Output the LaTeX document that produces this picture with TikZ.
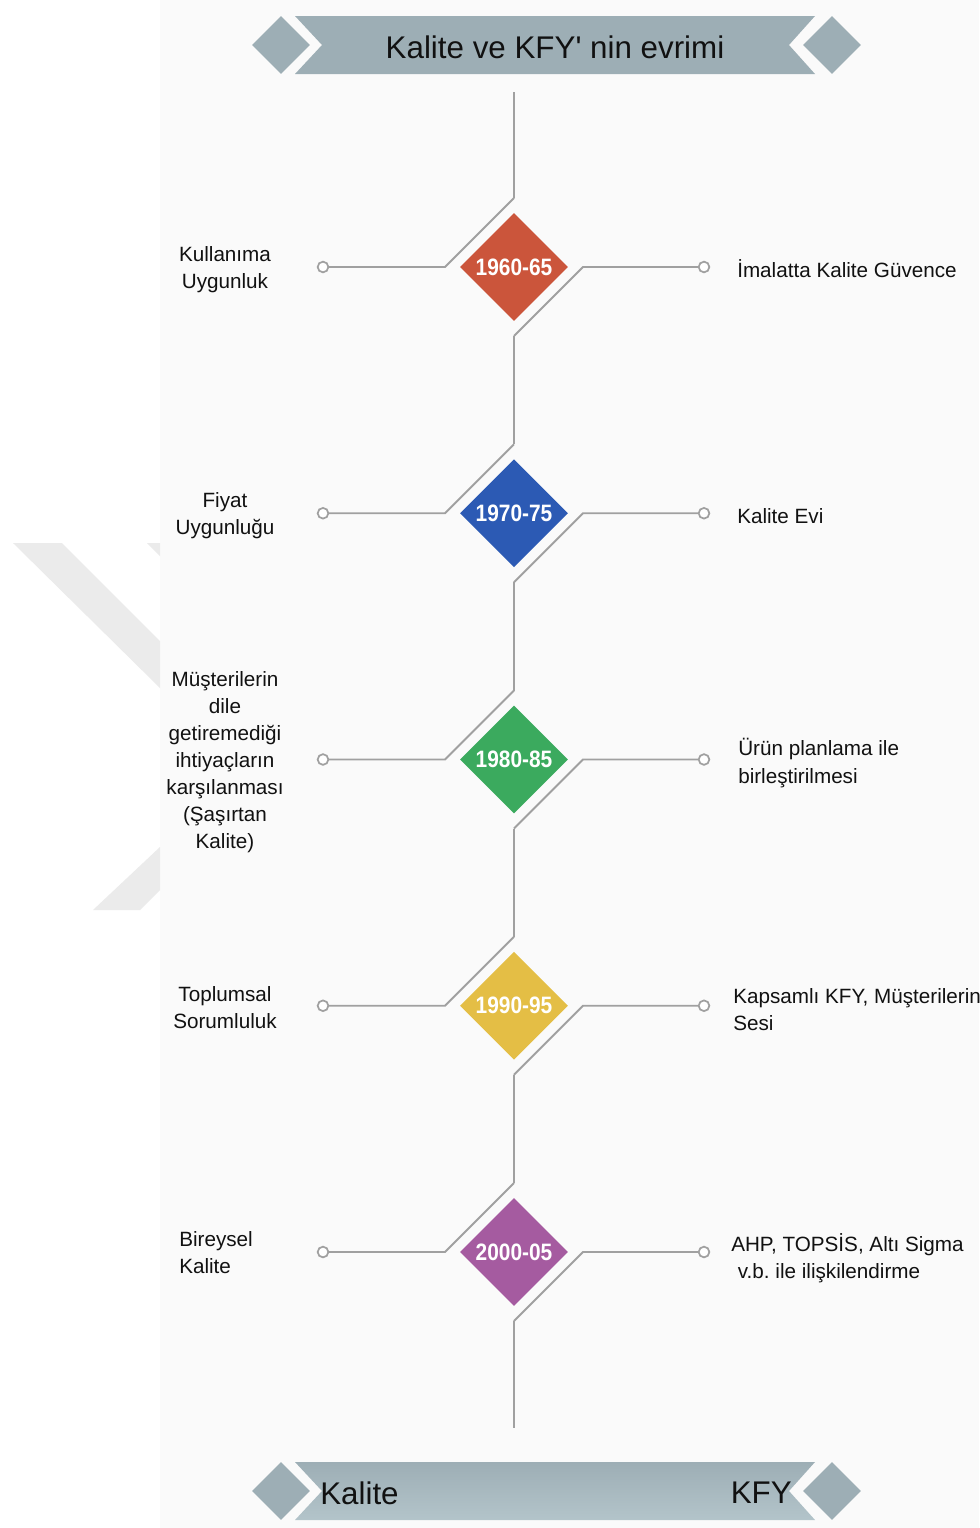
\documentclass[tikz,border=0pt]{standalone}
\usepackage{fontspec}
\setmainfont{Liberation Sans}
\usetikzlibrary{shapes.geometric,calc}
\definecolor{cred}{HTML}{CB553B}
\definecolor{cblue}{HTML}{2C5AB4}
\definecolor{cgreen}{HTML}{3BAA5E}
\definecolor{cyellow}{HTML}{E4BE45}
\definecolor{cpurple}{HTML}{A55BA0}
\definecolor{banner}{HTML}{9DAEB5}
\definecolor{bannerlight}{HTML}{B3C4CA}
\definecolor{linegray}{HTML}{A0A0A0}
\definecolor{bggray}{HTML}{FAFAFA}
\definecolor{wmgray}{HTML}{EBEBEB}
\definecolor{txt}{HTML}{111111}
\newcommand\datefont{\fontsize{17.8}{20}\selectfont\bfseries}
\newcommand\lblfont{\fontsize{15.5}{20.3}\selectfont\frenchspacing}
\newcommand\headfont{\fontsize{23.5}{26}\selectfont}
\begin{document}
\begin{tikzpicture}[x=0.75pt,y=-0.75pt,
  datebox/.style={diamond,aspect=1,inner sep=0pt,minimum size=81pt,text=white,font=\datefont},
  enddia/.style={diamond,aspect=1,inner sep=0pt,minimum size=43.5pt,fill=banner},
  dot/.style={circle,draw=linegray,fill=white,line width=1.3pt,minimum size=8pt,inner sep=0pt},
  conn/.style={draw=linegray,line width=1.4pt,line join=miter},
  lbl/.style={font=\lblfont,text=txt,inner sep=0pt},
  head/.style={font=\headfont,text=txt,inner sep=0pt}]
\useasboundingbox (0,0) rectangle (979,1528);
\fill[white] (0,0) rectangle (979,1528);
\fill[bggray] (160,0) rectangle (979,1528);
% watermark
\fill[wmgray] (13,543) -- (62,543) -- (160,641) -- (160,688) -- cycle;
\fill[wmgray] (147,543) -- (160,543) -- (160,556) -- cycle;
\fill[wmgray] (160,847) -- (160,890) -- (140,910) -- (93,910) -- cycle;
% header
\fill[banner] (295,16) -- (815,16) -- (789,45) -- (815,74) -- (295,74) -- (322,45) -- cycle;
\node[enddia] (hl) at (281,45) {};
\node[enddia] (hr) at (832,45) {};
\node[head] (title) at (555,47) {Kalite ve KFY\textquotesingle{} nin evrimi};
% footer
\shade[top color=banner,bottom color=bannerlight] (295,1462) -- (815,1462) -- (789,1491) -- (815,1520) -- (295,1520) -- (322,1491) -- cycle;
\node[enddia] (fl) at (281,1491) {};
\node[enddia] (fr) at (832,1491) {};
\node[head,anchor=west] (fkal) at (320,1493) {Kalite};
\node[head,anchor=east] (fkfy) at (792,1493) {KFY};
% timeline
\coordinate (top) at (514,92);
\coordinate (bot) at (514,1428);
\foreach \i/\cy/\yr/\col in {1/267/1960-65/cred,2/513.25/1970-75/cblue,3/759.5/1980-85/cgreen,4/1005.75/1990-95/cyellow,5/1252/2000-05/cpurple}{
  \node[datebox,fill=\col] (d\i) at (514,\cy) {\scalebox{0.88}[1]{\yr}};
  \coordinate (a\i) at (514,\cy-69);
  \coordinate (b\i) at (514,\cy+69);
  \coordinate (la\i) at (445,\cy);
  \coordinate (ra\i) at (583,\cy);
  \node[dot] (l\i) at (323,\cy) {};
  \node[dot] (r\i) at (704,\cy) {};
  \draw[conn] (l\i) -- (la\i) -- (a\i);
  \draw[conn] (r\i) -- (ra\i) -- (b\i);
}
\draw[conn] (top) -- (a1);
\draw[conn] (b1) -- (a2);
\draw[conn] (b2) -- (a3);
\draw[conn] (b3) -- (a4);
\draw[conn] (b4) -- (a5);
\draw[conn] (b5) -- (bot);
% left labels
\node[lbl,align=center] (t1l) at (225,270) {Kullanıma\\Uygunluk};
\node[lbl,align=center] (t2l) at (225,516) {Fiyat\\Uygunluğu};
\node[lbl,align=center] (t3l) at (225,762) {Müşterilerin\\dile\\getiremediği\\ihtiyaçların\\karşılanması\\(Şaşırtan\\Kalite)};
\node[lbl,align=center] (t4l) at (225,1008) {Toplumsal\\Sorumluluk};
\node[lbl,align=left,anchor=west] (t5l) at (179,1253) {Bireysel\\Kalite};
% right labels
\node[lbl,anchor=west] (t1r) at (737,269) {İmalatta Kalite Güvence};
\node[lbl,anchor=west] (t2r) at (737,516) {Kalite Evi};
\node[lbl,align=left,anchor=west] (t3r) at (738,763) {Ürün planlama ile\\birleştirilmesi};
\node[lbl,align=left,anchor=west] (t4r) at (733,1010) {Kapsamlı KFY, Müşterilerin\\Sesi};
\node[lbl,align=left,anchor=west] (t5r) at (731,1258) {AHP, TOPSİS, Altı Sigma\\\hspace*{5pt}v.b.\ ile ilişkilendirme};
\end{tikzpicture}
\end{document}
